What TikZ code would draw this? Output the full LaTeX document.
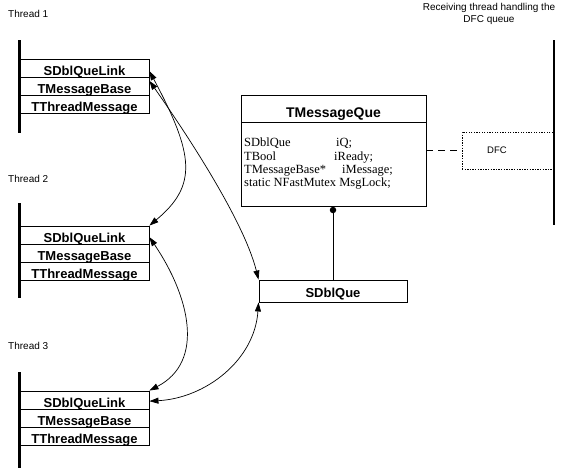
\documentclass[tikz,border=0pt]{standalone}
\usepackage{fontspec}
\setmainfont{Liberation Serif}
\newfontfamily\lsans{Liberation Sans}
\usetikzlibrary{arrows.meta}
\begin{document}
\begin{tikzpicture}[x=1pt,y=-1pt,
  row/.style={draw,line width=0.9pt,minimum width=129pt,minimum height=18.3pt,inner sep=0pt,
    text height=15pt,text depth=1.3pt,font=\lsans\bfseries\fontsize{13}{13}\selectfont},
  lifeline/.style={line width=2.6pt},
  small/.style={inner sep=0pt,font=\lsans\fontsize{10}{10}\selectfont},
  body/.style={inner sep=0pt,anchor=base west,font=\fontsize{12.5}{12.5}\selectfont},
  conn/.style={line width=0.7pt,{Triangle[length=9pt,width=6pt]}-{Triangle[length=9pt,width=6pt]}},
  thinline/.style={line width=0.9pt}
]
\useasboundingbox (0,0) rectangle (576,472);

% title of the receiving thread
\node[small,anchor=base] (title1) at (489,10) {Receiving thread handling the};
\node[small,anchor=base] (title2) at (489,22) {DFC queue};
\draw[lifeline] (554,40) -- (554,225);

% thread labels
\node[small,anchor=base west] (lab1) at (8,17) {Thread 1};
\node[small,anchor=base west] (lab2) at (8,182) {Thread 2};
\node[small,anchor=base west] (lab3) at (8,349) {Thread 3};

% thread 1
\draw[lifeline] (19.5,40) -- (19.5,133);
\node[row] (t1a) at (84.5,68.15) {SDblQueLink};
\node[row] (t1b) at (84.5,86.45) {TMessageBase};
\node[row] (t1c) at (84.5,104.75) {TThreadMessage};

% thread 2
\draw[lifeline] (19.5,203) -- (19.5,298);
\node[row] (t2a) at (84.5,235.15) {SDblQueLink};
\node[row] (t2b) at (84.5,253.45) {TMessageBase};
\node[row] (t2c) at (84.5,271.75) {TThreadMessage};

% thread 3
\draw[lifeline] (19.5,372) -- (19.5,468);
\node[row] (t3a) at (84.5,400.15) {SDblQueLink};
\node[row] (t3b) at (84.5,418.45) {TMessageBase};
\node[row] (t3c) at (84.5,436.75) {TThreadMessage};

% TMessageQue class
\node[draw,thinline,minimum width=185pt,minimum height=27pt,inner sep=0pt,
  text height=18.5pt,text depth=1.5pt,font=\lsans\bfseries\fontsize{14}{14}\selectfont] (tmqh) at (333.5,108.5) {TMessageQue};
\node[draw,thinline,minimum width=185pt,minimum height=84pt,inner sep=0pt] (tmqb) at (333.5,164) {};
\node[body] (m1a) at (244,146.5) {SDblQue};
\node[body] (m1b) at (336,146.5) {iQ;};
\node[body] (m2a) at (244,160) {TBool};
\node[body] (m2b) at (334,160) {iReady;};
\node[body] (m3a) at (244,173.3) {TMessageBase*};
\node[body] (m3b) at (342,173.3) {iMessage;};
\node[body] (m4a) at (244,186.5) {static NFastMutex MsgLock;};

% SDblQue
\node[draw,thinline,minimum width=148pt,minimum height=22pt,inner sep=0pt,
  text height=14pt,text depth=2pt,font=\lsans\bfseries\fontsize{13}{13}\selectfont] (sdq) at (333,291) {SDblQue};
\node[circle,fill,inner sep=0pt,minimum size=6.5pt] (dot) at (333,210) {};
\draw[thinline] (dot.center) -- (sdq.north);

% DFC
\node[draw,line width=0.9pt,dash pattern=on 1.3pt off 1.3pt,minimum width=92pt,minimum height=37pt,inner sep=0pt] (dfc) at (508,150.5) {};
\node[inner sep=0pt,font=\lsans\fontsize{9.5}{9.5}\selectfont] (dfct) at (497,150.5) {DFC};
\draw[thinline,dash pattern=on 7pt off 5pt] (tmqb.east |- dfc.west) -- (dfc.west);
\draw[lifeline] (554,40) -- (554,225);

% connectors
\draw[conn] ([yshift=-3pt]t1a.east) .. controls +(45,84) and +(48,-40) .. (t2a.north east);
\draw[conn] ([yshift=-4pt]t1b.north east) .. controls +(35,50) and +(-15,-60) .. (sdq.north west);
\draw[conn] ([yshift=-2pt]t2a.east) .. controls +(40,59) and +(56,-29) .. (t3a.north east);
\draw[conn] (sdq.south west) .. controls +(-4,58) and +(56,-3) .. ([yshift=-1pt]t3a.east);
\end{tikzpicture}
\end{document}
